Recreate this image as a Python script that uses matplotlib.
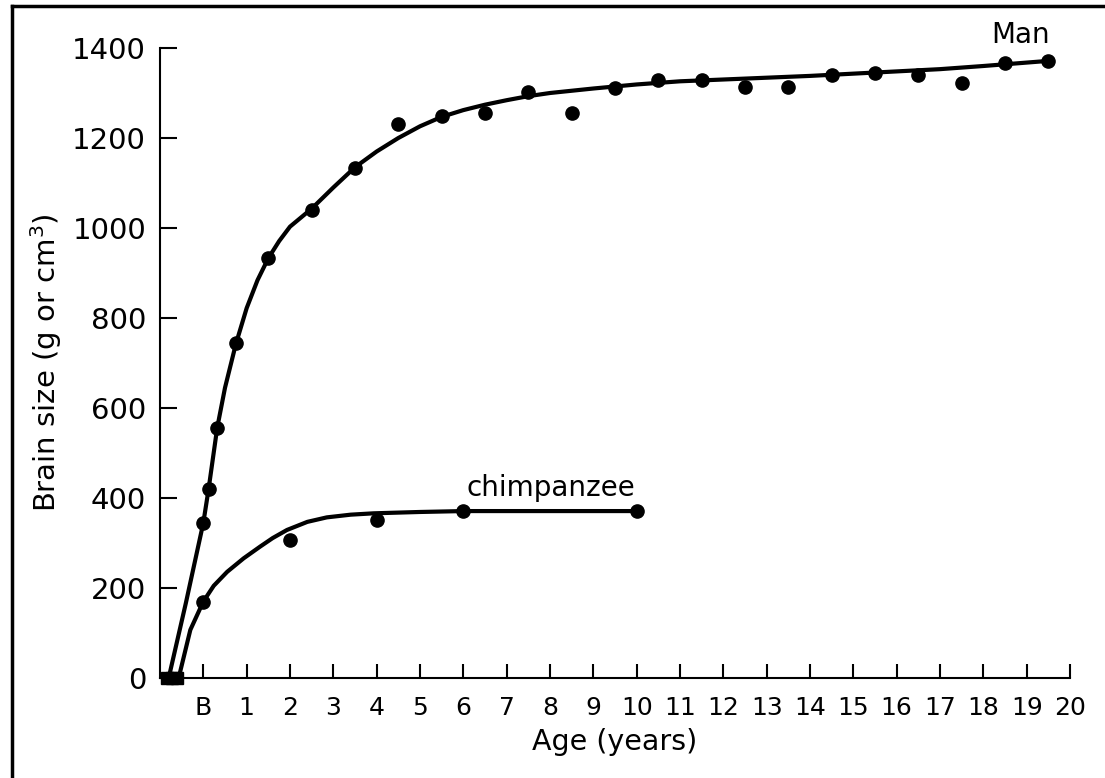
import matplotlib.pyplot as plt
from matplotlib.lines import Line2D

# data points (age in years, B = birth = 0)
man_age = [0, 0.12, 0.32, 0.75, 1.5, 2.5, 3.5, 4.5, 5.5, 6.5, 7.5, 8.5, 9.5, 10.5,
           11.5, 12.5, 13.5, 14.5, 15.5, 16.5, 17.5, 18.5, 19.5]
man_size = [345, 419, 556, 744, 933, 1040, 1133, 1231, 1249, 1256, 1302, 1256, 1311, 1329,
            1329, 1313, 1313, 1340, 1344, 1340, 1322, 1367, 1371]

chimp_age = [0, 2, 4, 6, 10]
chimp_size = [170, 307, 351, 371, 371]

prenatal_age = [-0.85, -0.72, -0.6]
prenatal_size = [0, 0, 0]

# fitted curves
man_curve_x = [-0.8, -0.4, 0, 0.12, 0.32, 0.5, 0.75, 1.0, 1.25, 1.5, 1.75, 2.0, 2.5, 3.0,
               3.5, 4.0, 4.5, 5.0, 5.5, 6.0, 6.5, 7.0, 7.5, 8.0, 9.0, 10.0, 11.0, 12.0,
               13.0, 14.0, 15.0, 16.0, 17.0, 18.0, 19.45]
man_curve_y = [0, 168, 345, 419, 556, 645, 742, 822, 884, 933, 971, 1003, 1043, 1090,
               1135, 1170, 1200, 1226, 1247, 1262, 1274, 1284, 1293, 1300, 1310, 1319, 1326,
               1330, 1334, 1338, 1343, 1348, 1353, 1360, 1371]

chimp_curve_x = [-0.57, -0.3, 0, 0.24, 0.55, 0.93, 1.31, 1.6, 1.93, 2.4, 2.85, 3.4, 3.93,
                 5.0, 6.0, 10.0]
chimp_curve_y = [0, 107, 170, 205, 236, 266, 292, 311, 329, 347, 357, 363, 366,
                 369, 371, 371]

xticks = list(range(0, 21))
xlabels = ['B'] + [str(i) for i in range(1, 21)]
yticks = [0, 200, 400, 600, 800, 1000, 1200, 1400]

fig = plt.figure(figsize=(11.05, 7.78), dpi=100)
ax = fig.add_axes([0.1448, 0.1285, 0.8235, 0.8098])

ax.plot(man_curve_x, man_curve_y, color='black', lw=3.0,
        solid_capstyle='round', solid_joinstyle='round')
ax.plot(chimp_curve_x, chimp_curve_y, color='black', lw=3.0,
        solid_capstyle='round', solid_joinstyle='round')
ax.plot(man_age, man_size, 'o', color='black', ms=9.5, clip_on=False)
ax.plot(chimp_age, chimp_size, 'o', color='black', ms=9.5, clip_on=False)
ax.plot(prenatal_age, prenatal_size, 's', color='black', ms=9, clip_on=False)

ax.text(18.85, 1429, 'Man', fontsize=20, ha='center', va='center')
ax.text(8.03, 422, 'chimpanzee', fontsize=20, ha='center', va='center')

ax.set_xlim(-1, 20)
ax.set_ylim(0, 1400)
ax.set_xticks(xticks)
ax.set_xticklabels(xlabels)
ax.set_yticks(yticks)
ax.tick_params(axis='x', direction='in', length=10, width=1.5, labelsize=18, pad=13)
ax.tick_params(axis='y', direction='in', length=12, width=1.5, labelsize=21, pad=10)
for s in ['top', 'right']:
    ax.spines[s].set_visible(False)
for s in ['left', 'bottom']:
    ax.spines[s].set_linewidth(1.5)

ax.set_xlabel('Age (years)', fontsize=20.5, labelpad=6)
ax.set_ylabel('Brain size (g or cm$^3$)', fontsize=21, labelpad=6)

# frame of the scanned figure
fig.add_artist(Line2D([0.011, 0.011], [0, 0.992], color='black', lw=2.5))
fig.add_artist(Line2D([0.011, 1], [0.992, 0.992], color='black', lw=2.5))

fig.savefig('out.png', dpi=100)
